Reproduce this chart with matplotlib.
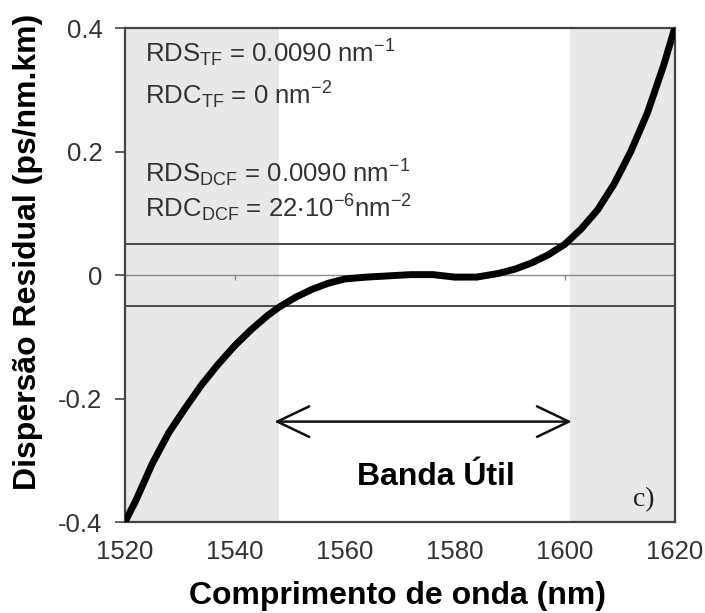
import matplotlib
matplotlib.use('Agg')
import matplotlib.pyplot as plt

plt.rcParams['font.family'] = ['Liberation Sans', 'DejaVu Sans']
plt.rcParams['mathtext.default'] = 'regular'

# curva da dispersao residual
wl = [1520, 1522, 1525, 1528, 1531, 1534, 1537, 1540, 1543, 1546, 1548, 1551,
      1554, 1557, 1560, 1564, 1568, 1572, 1576, 1578, 1580, 1584, 1588, 1591,
      1594, 1597, 1600, 1603, 1606, 1609, 1612, 1615, 1618, 1620]
disp = [-0.400, -0.365, -0.305, -0.255, -0.215, -0.177, -0.144, -0.114, -0.088,
        -0.065, -0.052, -0.036, -0.023, -0.013, -0.006, -0.003, -0.001, 0.001,
        0.001, -0.001, -0.003, -0.003, 0.003, 0.010, 0.020, 0.033, 0.050, 0.075,
        0.106, 0.148, 0.200, 0.262, 0.340, 0.400]

banda = [1548, 1601]        # limites da banda util
tolerancia = 0.05           # +/- limite de dispersao
xticks = [1520, 1540, 1560, 1580, 1600, 1620]
yticks = [-0.4, -0.2, 0, 0.2, 0.4]
ytick_labels = ['-0.4', '-0.2', '0', '0.2', '0.4']

textos = [r'RDS$_{TF}$ = 0.0090 nm$^{-1}$',
          r'RDC$_{TF}$ = 0 nm$^{-2}$',
          r'RDS$_{DCF}$ = 0.0090 nm$^{-1}$',
          r'RDC$_{DCF}$ = 22$\cdot$10$^{-6}$nm$^{-2}$']
textos_y = [0.345, 0.277, 0.151, 0.093]

fig = plt.figure(figsize=(7.05, 6.13), dpi=100)
ax = fig.add_axes([0.177, 0.148, 0.78, 0.806])

ax.set_xlim(1520, 1620)
ax.set_ylim(-0.4, 0.4)

# regioes fora da banda
ax.axvspan(1520, banda[0], color='#e8e8e8', lw=0, zorder=0)
ax.axvspan(banda[1], 1620, color='#e8e8e8', lw=0, zorder=0)

ax.axhline(0, color='#8a8a8a', lw=1.0, zorder=1)
ax.vlines(xticks[1:-1], -0.008, 0, color='#8a8a8a', lw=1.0, zorder=1)
ax.axhline(tolerancia, color='#4a4a4a', lw=1.4, zorder=2)
ax.axhline(-tolerancia, color='#4a4a4a', lw=1.4, zorder=2)

ax.plot(wl, disp, color='black', lw=5, solid_capstyle='round', zorder=3)

for t, y in zip(textos, textos_y):
    ax.text(1523.6, y, t, fontsize=18.5, color='#333333', va='baseline', ha='left')

ax.annotate('', xy=(1546.7, -0.237), xytext=(1601.8, -0.237),
            arrowprops=dict(arrowstyle='<->,head_length=2.3,head_width=1.1',
                            color='#111111', lw=1.8))
ax.text(1576.5, -0.326, 'Banda Útil', fontsize=23, fontweight='bold',
        ha='center', va='center')
ax.text(1614.3, -0.363, 'c)', fontsize=20, family='Liberation Serif',
        ha='center', va='center', color='#222222')

ax.set_xticks(xticks)
ax.set_yticks(yticks)
ax.set_yticklabels(ytick_labels)
ax.tick_params(axis='x', length=0, pad=13, labelsize=18.5, labelcolor='#333333')
ax.tick_params(axis='y', length=7, width=1.2, color='#444444', pad=9,
               labelsize=18.5, labelcolor='#333333')
for s in ax.spines.values():
    s.set_color('#444444')
    s.set_linewidth(1.6)

ax.set_xlabel('Comprimento de onda (nm)', fontsize=23, fontweight='bold')
ax.set_ylabel('Dispersão Residual (ps/nm.km)', fontsize=23, fontweight='bold')
ax.xaxis.set_label_coords(0.496, -0.15)
ax.yaxis.set_label_coords(-0.176, 0.547)
ax.xaxis.label.set_va('center')
ax.yaxis.label.set_va('center')

plt.savefig('out.png', dpi=100)
